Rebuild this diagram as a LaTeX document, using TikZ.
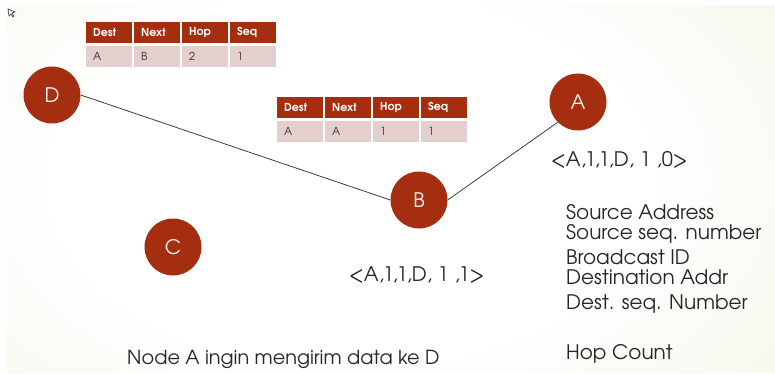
\documentclass[tikz,border=0pt]{standalone}
\usepackage{fontspec}
\setmainfont{TeX Gyre Adventor}
\definecolor{rust}{RGB}{165,46,16}
\definecolor{rowpink}{RGB}{229,206,206}
\definecolor{slidegreen}{RGB}{228,236,204}
\pgfdeclareradialshading{slidebg}{\pgfpoint{0bp}{0bp}}{%
  color(0bp)=(white); color(16bp)=(white);
  color(34bp)=(white!55!slidegreen); color(50bp)=(slidegreen); color(75bp)=(slidegreen)}
\tikzset{
  netnode/.style={circle, fill=rust, draw=none, minimum size=57pt, inner sep=0pt,
    text=white!94!rust, font=\fontsize{20}{22}\selectfont},
  link/.style={draw=black!80, line width=0.75pt},
  hdr/.style={fill=rust, text=white, minimum width=46pt, minimum height=20.5pt,
    inner xsep=7pt, inner ysep=0pt, text width=32pt, align=left, anchor=north west,
    font=\bfseries\fontsize{11}{12}\selectfont},
  row/.style={fill=rowpink, text=black!80, minimum width=46pt, minimum height=21pt,
    inner xsep=7pt, inner ysep=0pt, text width=32pt, align=left, anchor=north west,
    font=\fontsize{11}{12}\selectfont},
  lbl/.style={anchor=base west, inner sep=0pt, text=black!85,
    font=\fontsize{20}{22}\selectfont}
}
\begin{document}
\begin{tikzpicture}[x=1pt,y=-1pt]
\useasboundingbox (0,0) rectangle (775,374);
\fill[white] (0,0) rectangle (775,374);
% slide background
\begin{scope}
  \clip (7,6) rectangle (775,372);
  \shade[shading=slidebg] (-100,-100) rectangle (800,460);
\end{scope}
% pointer cursor
\draw[black!80, line width=0.6pt] (8,9) -- (9,16) -- (11,14) -- (13,17) -- (14,16) -- (12,13) -- (15,12) -- cycle;

% routing tables
\foreach \t/\x/\y/\a/\b/\c/\d in {1/86/22/A/B/2/1, 2/277/97/A/A/1/1}{
  \foreach \i/\h/\v in {0/Dest/\a, 1/Next/\b, 2/Hop/\c, 3/Seq/\d}{
    \node[hdr] (h\t\i) at ({\x+\i*48},\y) {\h};
    \node[row] (r\t\i) at ({\x+\i*48},{\y+24}) {\v};
  }
}

% network nodes
\node[netnode] (D) at (52,95) {D};
\node[netnode] (A) at (578,102) {A};
\node[netnode] (B) at (419,200) {B};
\node[netnode] (C) at (173,247) {C};

\draw[link] (D.east) -- (B.west);
\draw[link] (A.south west) -- (B.east);

% RREQ packets
\node[lbl] (rreqA) at (551,167) {<A,1,1,D, 1 ,0>};
\node[lbl] (rreqB) at (349,281) {<A,1,1,D, 1 ,1>};

% RREQ field legend
\node[lbl] (f1) at (566,219) {Source Address};
\node[lbl] (f2) at (566,239) {Source seq. number};
\node[lbl] (f3) at (566,264) {Broadcast ID};
\node[lbl] (f4) at (566,284) {Destination Addr};
\node[lbl] (f5) at (566,309) {Dest. seq. Number};
\node[lbl] (f6) at (566,359) {Hop Count};

\node[lbl, font=\fontsize{19.3}{22}\selectfont] (cap) at (127,364) {Node A ingin mengirim data ke D};
\end{tikzpicture}
\end{document}
